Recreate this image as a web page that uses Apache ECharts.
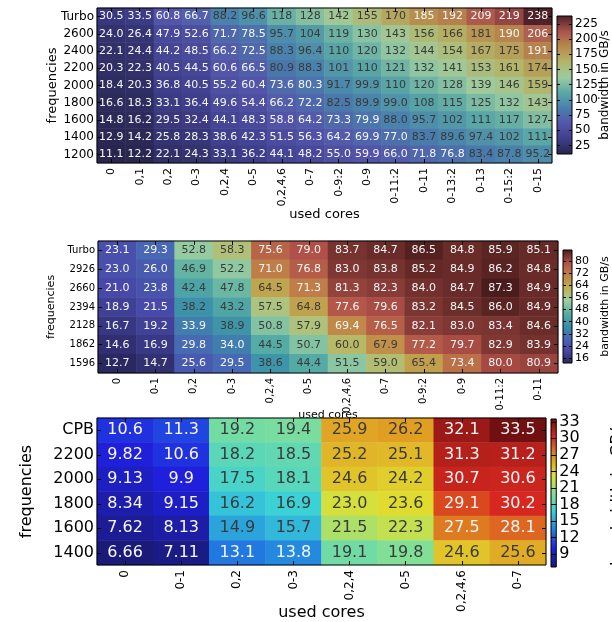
<!DOCTYPE html>
<html><head><meta charset="utf-8">
<script src="https://cdn.jsdelivr.net/npm/echarts@6/dist/echarts.min.js"></script>
<style>html,body{margin:0;padding:0;background:#fff}#c{width:612px;height:622px}</style>
</head><body><div id="c"></div>
<script>
// ---------- Chart 1 data ----------
const cores1 = ['0','0,1','0,2','0-3','0,2,4','0-5','0,2,4,6','0-7','0-9:2','0-9','0-11:2','0-11','0-13:2','0-13','0-15:2','0-15'];
const freqs1 = ['Turbo','2600','2400','2200','2000','1800','1600','1400','1200'];
const bandwidth1 = [
 ['30.5','33.5','60.8','66.7','88.2','96.6','118','128','142','155','170','185','192','209','219','238'],
 ['24.0','26.4','47.9','52.6','71.7','78.5','95.7','104','119','130','143','156','166','181','190','206'],
 ['22.1','24.4','44.2','48.5','66.2','72.5','88.3','96.4','110','120','132','144','154','167','175','191'],
 ['20.3','22.3','40.5','44.5','60.6','66.5','80.9','88.3','101','110','121','132','141','153','161','174'],
 ['18.4','20.3','36.8','40.5','55.2','60.4','73.6','80.3','91.7','99.9','110','120','128','139','146','159'],
 ['16.6','18.3','33.1','36.4','49.6','54.4','66.2','72.2','82.5','89.9','99.0','108','115','125','132','143'],
 ['14.8','16.2','29.5','32.4','44.1','48.3','58.8','64.2','73.3','79.9','88.0','95.7','102','111','117','127'],
 ['12.9','14.2','25.8','28.3','38.6','42.3','51.5','56.3','64.2','69.9','77.0','83.7','89.6','97.4','102','111'],
 ['11.1','12.2','22.1','24.3','33.1','36.2','44.1','48.2','55.0','59.9','66.0','71.8','76.8','83.4','87.8','95.2']
];
const cbTicks1 = [25,50,75,100,125,150,175,200,225];

// ---------- Chart 2 data ----------
const cores2 = ['0','0-1','0,2','0-3','0,2,4','0-5','0,2,4,6','0-7','0-9:2','0-9','0-11:2','0-11'];
const freqs2 = ['Turbo','2926','2660','2394','2128','1862','1596'];
const bandwidth2 = [
 ['23.1','29.3','52.8','58.3','75.6','79.0','83.7','84.7','86.5','84.8','85.9','85.1'],
 ['23.0','26.0','46.9','52.2','71.0','76.8','83.0','83.8','85.2','84.9','86.2','84.8'],
 ['21.0','23.8','42.4','47.8','64.5','71.3','81.3','82.3','84.0','84.7','87.3','84.9'],
 ['18.9','21.5','38.2','43.2','57.5','64.8','77.6','79.6','83.2','84.5','86.0','84.9'],
 ['16.7','19.2','33.9','38.9','50.8','57.9','69.4','76.5','82.1','83.0','83.4','84.6'],
 ['14.6','16.9','29.8','34.0','44.5','50.7','60.0','67.9','77.2','79.7','82.9','83.9'],
 ['12.7','14.7','25.6','29.5','38.6','44.4','51.5','59.0','65.4','73.4','80.0','80.9']
];
const cbTicks2 = [16,24,32,40,48,56,64,72,80];

// ---------- Chart 3 data ----------
const cores3 = ['0','0-1','0,2','0-3','0,2,4','0-5','0,2,4,6','0-7'];
const freqs3 = ['CPB','2200','2000','1800','1600','1400'];
const bandwidth3 = [
 ['10.6','11.3','19.2','19.4','25.9','26.2','32.1','33.5'],
 ['9.82','10.6','18.2','18.5','25.2','25.1','31.3','31.2'],
 ['9.13','9.9','17.5','18.1','24.6','24.2','30.7','30.6'],
 ['8.34','9.15','16.2','16.9','23.0','23.6','29.1','30.2'],
 ['7.62','8.13','14.9','15.7','21.5','22.3','27.5','28.1'],
 ['6.66','7.11','13.1','13.8','19.1','19.8','24.6','25.6']
];
const cbTicks3 = [9,12,15,18,21,24,27,30,33];

// ---------- styling ----------
const STOPS_A = ['#28264e','#3e3e8c','#5456aa','#4880ac','#5aa8a6','#9ccca0','#b4b468','#b88a4c','#aa524c','#4e2228'];
const STOPS_B = ['#2a2860','#4848a8','#4868b4','#3a90a8','#5ab0a4','#a0d0a0','#c0b050','#c08048','#b05048','#4a1c1c'];
const STOPS_JET = ['#1a1a78','#2020e0','#2080e0','#38d0d8','#88e090','#e0e030','#e09020','#d82820','#701010'];

const charts = [
 {cores:cores1, freqs:freqs1, rows:bandwidth1, ticks:cbTicks1},
 {cores:cores2, freqs:freqs2, rows:bandwidth2, ticks:cbTicks2},
 {cores:cores3, freqs:freqs3, rows:bandwidth3, ticks:cbTicks3}
];
const styles = [
 {grid:{left:97,top:8,width:455,height:155}, cb:{left:557,top:16,width:15,height:138},
  fs:11, yfs:12, xfs:11, nfs:13, cfs:12, xGap:45, yGap:38, cbGap:27, cbN:12, stops:STOPS_A, white:v=>v<80.5||v>183, nameZ:12},
 {grid:{left:98,top:241,width:460,height:132}, cb:{left:563,top:250,width:14,height:113},
  fs:11, yfs:10, xfs:10, nfs:11, cfs:11, xGap:37, yGap:41, cbGap:28, cbN:11, stops:STOPS_B, white:v=>v<36||v>68.5, nameZ:1},
 {grid:{left:97,top:418,width:449,height:148}, cb:{left:551,top:419,width:21,height:148},
  fs:16, yfs:16, xfs:12, nfs:16, cfs:16, xGap:40, yGap:62, cbGap:54, cbN:16, stops:STOPS_JET, white:v=>v<14||v>27, nameZ:12}
];

const FONT = 'DejaVu Sans';
const grids=[], xAxes=[], yAxes=[], series=[], visualMaps=[];
const tickStyle = {show:true, inside:true, alignWithLabel:true, interval:0, length:4, lineStyle:{color:'#000', width:1}};

styles.forEach(st => grids.push(Object.assign({show:true, borderColor:'#000', borderWidth:1, backgroundColor:'transparent', z:10}, st.grid)));
styles.forEach(st => grids.push(Object.assign({show:true, borderColor:'#000', borderWidth:1, backgroundColor:'transparent', z:10}, st.cb)));

charts.forEach((c,k)=>{
  const st = styles[k];
  const bx = {type:'category', gridIndex:k, data:c.cores};
  const by = {type:'category', gridIndex:k, data:c.freqs, inverse:true};
  xAxes.push(Object.assign({}, bx, {position:'bottom', z:st.nameZ, axisLine:{show:false}, axisTick:{show:false},
    axisLabel:{rotate:90, interval:0, fontSize:st.xfs, color:'#000', margin:5, fontFamily:FONT, hideOverlap:false},
    name:'used cores', nameLocation:'middle', nameGap:st.xGap, nameMoveOverlap:false,
    nameTextStyle:{fontSize:st.nfs, color:'#000', fontFamily:FONT}}));
  xAxes.push(Object.assign({}, bx, {position:'bottom', z:12, axisLine:{show:false}, axisTick:tickStyle, axisLabel:{show:false}}));
  xAxes.push(Object.assign({}, bx, {position:'top', z:12, axisLine:{show:false}, axisTick:tickStyle, axisLabel:{show:false}}));
  yAxes.push(Object.assign({}, by, {position:'left', z:12, axisLine:{show:false}, axisTick:tickStyle,
    axisLabel:{interval:0, fontSize:st.yfs, color:'#000', margin:3, fontFamily:FONT},
    name:'frequencies', nameLocation:'middle', nameRotate:90, nameGap:st.yGap, nameMoveOverlap:false,
    nameTextStyle:{fontSize:st.nfs, color:'#000', fontFamily:FONT}}));
  yAxes.push(Object.assign({}, by, {position:'right', z:12, axisLine:{show:false}, axisTick:tickStyle, axisLabel:{show:false}}));
  yAxes.push(Object.assign({}, by, {position:'left', z:12, axisLine:{show:false}, axisTick:{show:false}, axisLabel:{show:false}}));

  const nums = c.rows.map(r=>r.map(Number));
  const all = [].concat(...nums);
  const vmin = Math.min(...all), vmax = Math.max(...all);
  c.vmin = vmin; c.vmax = vmax;
  const data = [];
  nums.forEach((r,yi)=>r.forEach((v,xi)=>{
    data.push({value:[xi,yi,v], label:{color: st.white(v) ? '#f6f6f6' : '#3a3a3a'}});
  }));
  series.push({type:'heatmap', xAxisIndex:3*k, yAxisIndex:3*k, data:data, z:2,
    itemStyle:{borderWidth:0},
    label:{show:true, fontSize:st.fs, fontFamily:FONT, formatter:p=>c.rows[p.value[1]][p.value[0]]},
    emphasis:{disabled:true}, progressive:0});
  visualMaps.push({type:'continuous', show:false, seriesIndex:k, dimension:2, min:vmin, max:vmax, inRange:{color:st.stops}});
});

// colorbars
charts.forEach((c,k)=>{
  const st = styles[k];
  const gi = 3+k;
  xAxes.push({type:'category', gridIndex:gi, data:['cb'], show:false});
  const xi = xAxes.length-1;
  yAxes.push({type:'value', gridIndex:gi, position:'right', min:c.vmin, max:c.vmax, z:12,
    axisLine:{show:false}, splitLine:{show:false},
    axisTick:{show:true, inside:true, length:3, customValues:c.ticks, lineStyle:{color:'#000'}},
    axisLabel:{show:true, customValues:c.ticks, fontSize:st.cfs, color:'#000', margin:3, fontFamily:FONT},
    name:'bandwidth in GB/s', nameLocation:'middle', nameRotate:90, nameGap:st.cbGap, nameMoveOverlap:false,
    nameTextStyle:{fontSize:st.cbN, color:'#000', fontFamily:FONT}});
  const yi = yAxes.length-1;
  yAxes.push({type:'value', gridIndex:gi, position:'left', min:c.vmin, max:c.vmax, z:12,
    axisLine:{show:false}, splitLine:{show:false}, axisLabel:{show:false},
    axisTick:{show:true, inside:true, length:3, customValues:c.ticks, lineStyle:{color:'#000'}}});
  const n = st.stops.length;
  series.push({type:'bar', xAxisIndex:xi, yAxisIndex:yi, stack:'cb'+k, data:[c.vmin], barWidth:'100%',
    itemStyle:{color:'rgba(0,0,0,0)'}, silent:true, clip:true});
  series.push({type:'bar', xAxisIndex:xi, yAxisIndex:yi, stack:'cb'+k, data:[c.vmax-c.vmin], barWidth:'100%',
    itemStyle:{color:{type:'linear', x:0, y:1, x2:0, y2:0, colorStops: st.stops.map((s,i)=>({offset:i/(n-1), color:s}))}},
    silent:true, clip:true});
});

const chart = echarts.init(document.getElementById('c'), null, {renderer:'canvas'});
chart.setOption({
  animation:false,
  backgroundColor:'#fff',
  textStyle:{fontFamily:FONT},
  grid:grids, xAxis:xAxes, yAxis:yAxes, visualMap:visualMaps, series:series
});
</script></body></html>
